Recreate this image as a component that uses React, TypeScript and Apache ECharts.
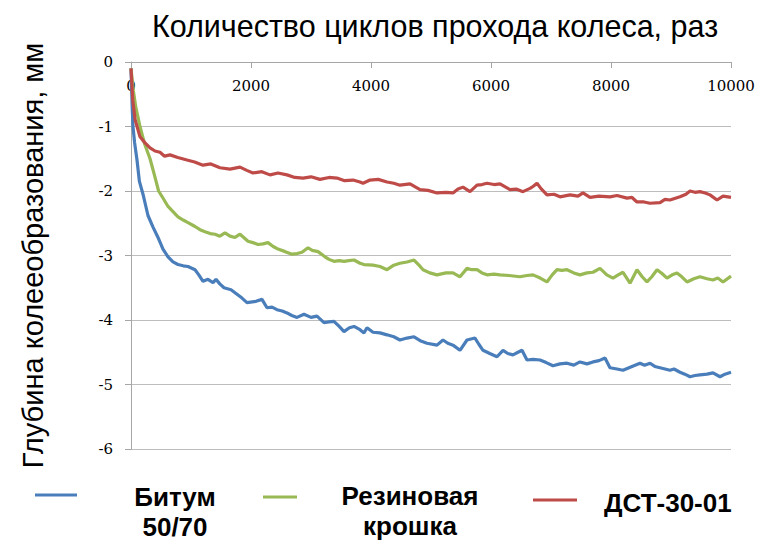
import React, { useEffect, useRef } from "react";
import * as echarts from "echarts";

const titleText = "Количество циклов прохода колеса, раз";
const yAxisName = "Глубина колееобразования, мм";
const seriesNames = ["Битум 50/70", "Резиновая крошка", "ДСТ-30-01"];
const legendLabels = ["Битум\n50/70", "Резиновая\nкрошка", "ДСТ-30-01"];
const colors = ["#4a7ebb", "#98b954", "#be4b48"];

const blueX = [0, 20, 33, 60, 100, 140, 200, 283, 367, 450, 533, 617, 700, 783, 870, 950, 1067, 1130, 1200, 1283, 1367, 1417, 1480, 1550, 1667, 1767, 1850, 1933, 2083, 2183, 2267, 2350, 2433, 2520, 2600, 2680, 2767, 2883, 3000, 3100, 3217, 3300, 3383, 3470, 3550, 3640, 3717, 3817, 3883, 3933, 4033, 4150, 4267, 4380, 4483, 4600, 4717, 4820, 4933, 5100, 5200, 5280, 5367, 5483, 5600, 5733, 5800, 5867, 5980, 6100, 6200, 6280, 6367, 6450, 6517, 6600, 6700, 6817, 6920, 7033, 7150, 7267, 7380, 7483, 7600, 7700, 7800, 7900, 7983, 8100, 8200, 8350, 8483, 8560, 8650, 8730, 8817, 8900, 8983, 9050, 9150, 9230, 9317, 9400, 9483, 9600, 9700, 9817, 9900, 10000];
const blueY = [-0.1, -0.7, -1.0, -1.25, -1.52, -1.85, -2.05, -2.38, -2.56, -2.72, -2.9, -3.02, -3.1, -3.14, -3.16, -3.17, -3.22, -3.3, -3.4, -3.37, -3.42, -3.37, -3.44, -3.5, -3.53, -3.6, -3.66, -3.73, -3.71, -3.68, -3.81, -3.8, -3.84, -3.86, -3.89, -3.93, -3.96, -3.91, -3.96, -3.94, -4.04, -4.03, -4.02, -4.1, -4.18, -4.12, -4.1, -4.15, -4.2, -4.12, -4.19, -4.2, -4.23, -4.26, -4.31, -4.28, -4.26, -4.32, -4.36, -4.39, -4.31, -4.36, -4.39, -4.47, -4.31, -4.28, -4.38, -4.47, -4.52, -4.57, -4.47, -4.52, -4.54, -4.5, -4.47, -4.62, -4.61, -4.62, -4.66, -4.71, -4.68, -4.67, -4.7, -4.65, -4.68, -4.65, -4.63, -4.59, -4.74, -4.76, -4.78, -4.72, -4.67, -4.7, -4.67, -4.72, -4.74, -4.76, -4.78, -4.76, -4.81, -4.84, -4.88, -4.86, -4.85, -4.84, -4.82, -4.88, -4.84, -4.81];

const greenX = [0, 40, 80, 150, 230, 317, 390, 460, 540, 617, 700, 783, 870, 950, 1067, 1150, 1233, 1320, 1400, 1480, 1567, 1650, 1733, 1817, 1950, 2030, 2117, 2200, 2283, 2370, 2450, 2570, 2683, 2770, 2850, 2950, 3020, 3117, 3233, 3300, 3383, 3470, 3550, 3630, 3717, 3817, 3883, 4033, 4150, 4267, 4380, 4483, 4600, 4717, 4800, 4867, 4980, 5100, 5250, 5367, 5483, 5600, 5680, 5767, 5850, 5933, 6050, 6150, 6300, 6483, 6600, 6700, 6820, 6933, 7020, 7100, 7180, 7267, 7380, 7483, 7600, 7700, 7817, 7930, 8033, 8120, 8200, 8317, 8433, 8520, 8600, 8680, 8767, 8850, 8933, 9020, 9100, 9180, 9267, 9380, 9483, 9600, 9700, 9780, 9867, 10000];
const greenY = [-0.1, -0.45, -0.7, -1.0, -1.28, -1.5, -1.75, -2.0, -2.12, -2.24, -2.32, -2.4, -2.45, -2.49, -2.55, -2.6, -2.63, -2.66, -2.67, -2.7, -2.65, -2.7, -2.72, -2.67, -2.78, -2.8, -2.83, -2.82, -2.8, -2.86, -2.9, -2.94, -2.98, -2.97, -2.95, -2.88, -2.92, -2.94, -3.02, -3.06, -3.09, -3.08, -3.09, -3.08, -3.07, -3.12, -3.14, -3.15, -3.17, -3.22, -3.15, -3.12, -3.1, -3.07, -3.15, -3.22, -3.27, -3.3, -3.27, -3.27, -3.33, -3.2, -3.22, -3.22, -3.27, -3.3, -3.29, -3.3, -3.31, -3.33, -3.31, -3.3, -3.35, -3.41, -3.3, -3.22, -3.23, -3.22, -3.27, -3.3, -3.27, -3.26, -3.2, -3.3, -3.35, -3.3, -3.26, -3.43, -3.22, -3.33, -3.41, -3.33, -3.22, -3.28, -3.35, -3.3, -3.27, -3.33, -3.41, -3.36, -3.33, -3.36, -3.38, -3.35, -3.41, -3.32];

const redX = [0, 30, 70, 150, 230, 317, 400, 483, 560, 650, 780, 933, 1060, 1200, 1330, 1483, 1650, 1817, 1930, 2033, 2180, 2317, 2450, 2600, 2730, 2867, 3000, 3150, 3300, 3433, 3560, 3700, 3817, 3867, 3983, 4120, 4267, 4380, 4483, 4650, 4817, 4950, 5100, 5250, 5367, 5450, 5533, 5650, 5767, 5850, 5933, 6050, 6150, 6317, 6420, 6533, 6650, 6700, 6767, 6830, 6933, 7050, 7150, 7317, 7450, 7533, 7650, 7800, 7983, 8100, 8267, 8350, 8433, 8550, 8650, 8817, 8900, 8983, 9150, 9250, 9317, 9400, 9483, 9570, 9650, 9767, 9867, 10000];
const redY = [-0.1, -0.6, -0.9, -1.16, -1.25, -1.33, -1.38, -1.4, -1.46, -1.44, -1.48, -1.52, -1.55, -1.6, -1.58, -1.64, -1.66, -1.63, -1.68, -1.72, -1.7, -1.75, -1.72, -1.75, -1.79, -1.8, -1.78, -1.82, -1.79, -1.8, -1.84, -1.83, -1.86, -1.88, -1.83, -1.82, -1.86, -1.88, -1.91, -1.89, -1.98, -1.99, -2.03, -2.02, -2.03, -1.97, -1.94, -2.01, -1.91, -1.9, -1.88, -1.9, -1.89, -1.98, -1.97, -2.01, -1.96, -1.93, -1.88, -1.96, -2.06, -2.05, -2.09, -2.06, -2.08, -2.03, -2.1, -2.08, -2.09, -2.07, -2.11, -2.1, -2.17, -2.17, -2.19, -2.18, -2.13, -2.14, -2.09, -2.05, -2.0, -2.02, -2.01, -2.03, -2.06, -2.14, -2.08, -2.1];

const sans = "'Liberation Sans', Arial, sans-serif";
const serif = "'DejaVu Serif', 'Liberation Serif', serif";

function pairs(xs: number[], ys: number[]) {
  return xs.map((x, i) => [x, ys[i]]);
}

export default function App() {
  const ref = useRef<HTMLDivElement>(null);
  useEffect(() => {
    if (!ref.current) return;
    const chart = echarts.init(ref.current, undefined, { renderer: "svg" });
    const legendLines = [
      { x1: 35, x2: 77, y: 495, tx: 175, ty: 512, align: "center" },
      { x1: 263, x2: 297, y: 497, tx: 410, ty: 511, align: "center" },
      { x1: 533, x2: 577, y: 500, tx: 604, ty: 503, align: "left" },
    ];
    const graphic: any[] = [];
    legendLines.forEach((l, i) => {
      graphic.push({
        type: "line",
        shape: { x1: l.x1, y1: l.y, x2: l.x2, y2: l.y },
        style: { stroke: colors[i], lineWidth: 3 },
      });
      graphic.push({
        type: "text",
        x: l.tx,
        y: l.ty,
        style: {
          text: legendLabels[i],
          fill: "#000",
          font: `bold 26px ${sans}`,
          lineHeight: 30,
          align: l.align,
          verticalAlign: "middle",
        },
      });
    });
    chart.setOption({
      animation: false,
      backgroundColor: "#fff",
      title: {
        text: titleText,
        left: 430,
        top: 5,
        textAlign: "center",
        textStyle: { fontFamily: sans, fontSize: 30.5, fontWeight: "normal", color: "#000" },
      },
      grid: { left: 131, right: 29, top: 62, bottom: 93, containLabel: false },
      xAxis: {
        type: "value",
        position: "top",
        min: 0,
        max: 10000,
        interval: 2000,
        axisLine: { show: true, onZero: false, lineStyle: { color: "#a6a6a6", width: 1 } },
        axisTick: { show: true, inside: true, length: 6, lineStyle: { color: "#a6a6a6" } },
        axisLabel: {
          inside: true,
          margin: 16,
          fontFamily: serif,
          fontSize: 15,
          color: "#000",
          formatter: (v: number) => String(v),
        },
        splitLine: { show: false },
      },
      yAxis: {
        type: "value",
        min: -6,
        max: 0,
        interval: 1,
        name: yAxisName,
        nameLocation: "middle",
        nameRotate: 90,
        nameGap: 84,
        nameTextStyle: { fontFamily: sans, fontSize: 29, color: "#000" },
        axisLine: { show: true, lineStyle: { color: "#a6a6a6", width: 1 } },
        axisTick: { show: true, length: 6, lineStyle: { color: "#a6a6a6" } },
        axisLabel: { margin: 18, fontFamily: serif, fontSize: 15, color: "#000" },
        splitLine: { show: true, lineStyle: { color: "#bdbdbd", width: 1 } },
      },
      graphic,
      series: [
        { name: seriesNames[0], type: "line", data: pairs(blueX, blueY), symbol: "none", lineStyle: { color: colors[0], width: 3.2 }, itemStyle: { color: colors[0] } },
        { name: seriesNames[1], type: "line", data: pairs(greenX, greenY), symbol: "none", lineStyle: { color: colors[1], width: 3.2 }, itemStyle: { color: colors[1] } },
        { name: seriesNames[2], type: "line", data: pairs(redX, redY), symbol: "none", lineStyle: { color: colors[2], width: 3.2 }, itemStyle: { color: colors[2] } },
      ],
    });
    return () => chart.dispose();
  }, []);
  return (
    <div
      ref={ref}
      style={{ position: "fixed", left: 0, top: 0, width: 760, height: 542, background: "#fff" }}
    />
  );
}
